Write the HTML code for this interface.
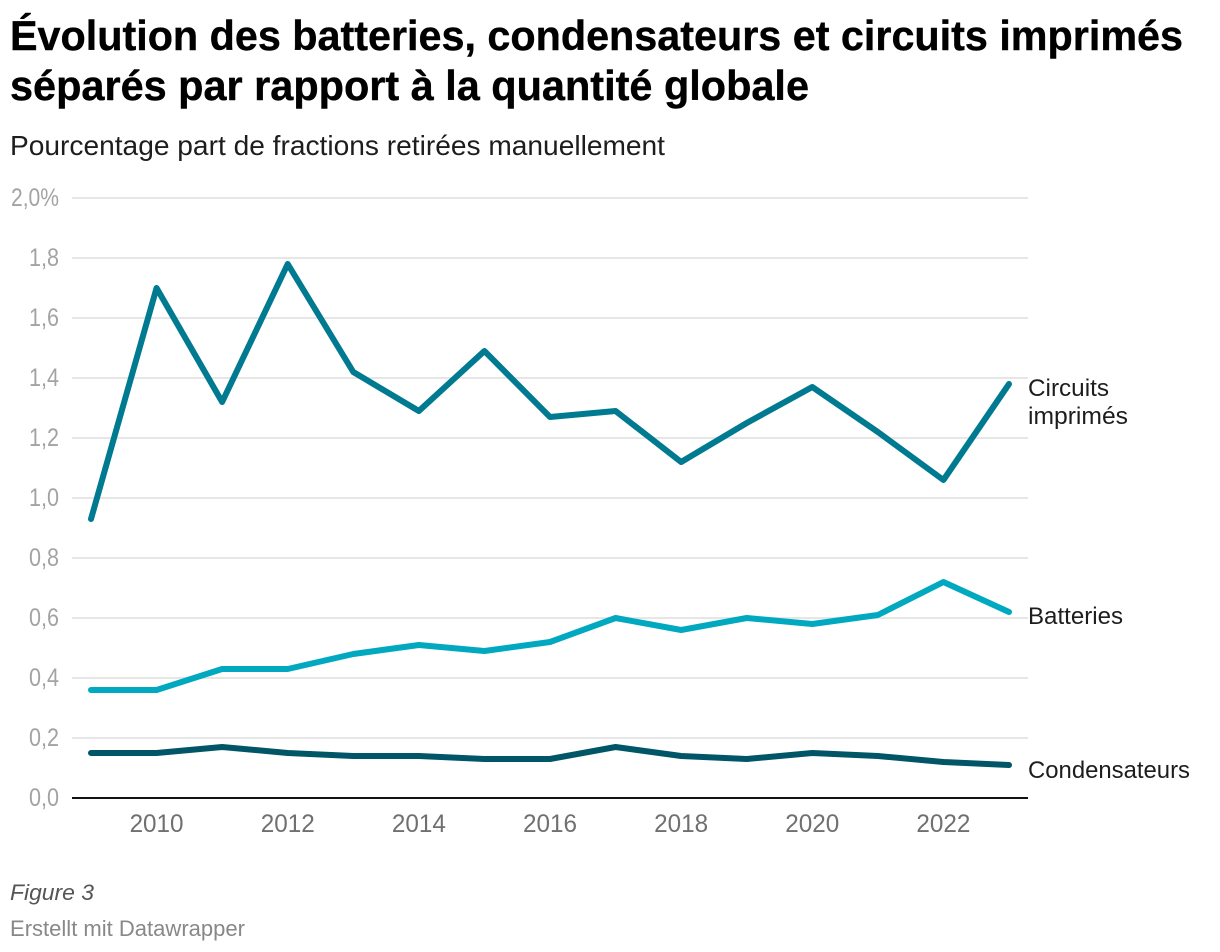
<!DOCTYPE html>
<html lang="fr">
<head>
<meta charset="utf-8">
<title>Évolution des batteries, condensateurs et circuits imprimés</title>
<style>
html,body{margin:0;padding:0;background:#fff;}
svg{display:block;font-family:"Liberation Sans",sans-serif;}
</style>
</head>
<body>
<svg id="chart" width="1220" height="952" viewBox="0 0 1220 952" xmlns="http://www.w3.org/2000/svg">
<text x="10" y="50" font-size="42" font-weight="700" fill="#000" stroke="#000" stroke-width="0.4" textLength="1173" lengthAdjust="spacingAndGlyphs">Évolution des batteries, condensateurs et circuits imprimés</text>
<text x="10" y="100" font-size="42" font-weight="700" fill="#000" stroke="#000" stroke-width="0.4" textLength="799" lengthAdjust="spacingAndGlyphs">séparés par rapport à la quantité globale</text>
<text x="10" y="155" font-size="28" fill="#1d1d1d" textLength="655" lengthAdjust="spacingAndGlyphs">Pourcentage part de fractions retirées manuellement</text>
<g id="grid"></g>
<g id="xticks"></g>
<g id="series"></g>
<g id="labels"></g>
<text x="10" y="900" font-size="22" font-style="italic" fill="#555" textLength="84" lengthAdjust="spacingAndGlyphs">Figure 3</text>
<text x="10" y="936" font-size="22" fill="#888" textLength="235" lengthAdjust="spacingAndGlyphs">Erstellt mit Datawrapper</text>
</svg>
<script>
const years = [2009,2010,2011,2012,2013,2014,2015,2016,2017,2018,2019,2020,2021,2022,2023];
const circuitsValues = [0.93,1.70,1.32,1.78,1.42,1.29,1.49,1.27,1.29,1.12,1.25,1.37,1.22,1.06,1.38];
const batteriesValues = [0.36,0.36,0.43,0.43,0.48,0.51,0.49,0.52,0.60,0.56,0.60,0.58,0.61,0.72,0.62];
const condensateursValues = [0.15,0.15,0.17,0.15,0.14,0.14,0.13,0.13,0.17,0.14,0.13,0.15,0.14,0.12,0.11];
const yTicks = [0,0.2,0.4,0.6,0.8,1.0,1.2,1.4,1.6,1.8,2.0];
const yTickLabels = ['0,0','0,2','0,4','0,6','0,8','1,0','1,2','1,4','1,6','1,8','2,0%'];
const xTicks = [2010,2012,2014,2016,2018,2020,2022];

const NS = 'http://www.w3.org/2000/svg';
const xMin = years[0], xMax = years[years.length - 1];
function xScale(v){ return 91 + (v - xMin) / (xMax - xMin) * 918; }
function yScale(v){ return 798 - v / 2 * 600; }

function makeEl(tag, attrs, parent){
  const el = document.createElementNS(NS, tag);
  for (const k in attrs) el.setAttribute(k, attrs[k]);
  parent.appendChild(el);
  return el;
}

const grid = document.getElementById('grid');
yTicks.forEach(function(t, i){
  const y = yScale(t);
  const line = makeEl('line', {x1:72, x2:1028, y1:y, y2:y, stroke:t === 0 ? '#111' : '#e6e6e6', 'stroke-width':2}, grid);
  
  
  const label = yTickLabels[i];
  const width = label.length > 3 ? 48 : 30;
  const lab = makeEl('text', {x:59 - width, y:y + 8, 'font-size':25, fill:'#a3a3a3', textLength:width, lengthAdjust:'spacingAndGlyphs'}, grid);
  
  
  lab.textContent = label;
});

const xg = document.getElementById('xticks');
xTicks.forEach(function(t){
  const lab = makeEl('text', {x:xScale(t) - 27, y:832, 'font-size':25, fill:'#707070', textLength:54, lengthAdjust:'spacingAndGlyphs'}, xg);
  
  
  lab.textContent = String(t);
});

function drawSeries(values, color, name){
  const pts = values.map(function(v, i){ return xScale(years[i]) + ',' + yScale(v); }).join(' ');
  const line = makeEl('polyline', {points:pts, fill:'none', stroke:color, 'stroke-width':6, 'stroke-linejoin':'round', 'stroke-linecap':'round'}, document.getElementById('series'));
  
  
}
drawSeries(condensateursValues, '#005566', 'series-condensateurs');
drawSeries(batteriesValues, '#00a9bf', 'series-batteries');
drawSeries(circuitsValues, '#007a90', 'series-circuits-imprimes');

function drawLabel(text, y, width, name){
  const lab = makeEl('text', {x:1028, y:y, 'font-size':24, fill:'#1d1d1d', textLength:width, lengthAdjust:'spacingAndGlyphs'}, document.getElementById('labels'));
  
  
  lab.textContent = text;
}
drawLabel('Circuits', 396, 81, 'label-circuits-line-1');
drawLabel('imprimés', 424, 100, 'label-circuits-line-2');
drawLabel('Batteries', 624, 95, 'label-batteries');
drawLabel('Condensateurs', 778, 162, 'label-condensateurs');
</script>
</body>
</html>
